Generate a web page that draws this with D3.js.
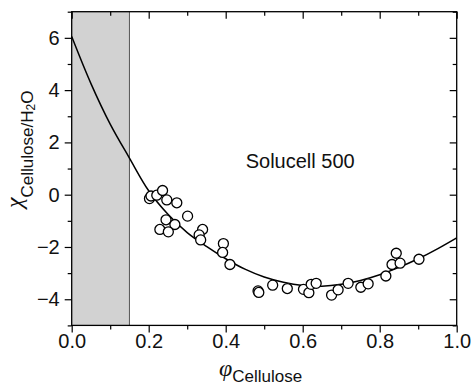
<!DOCTYPE html>
<html>
<head>
<meta charset="utf-8">
<script src="https://cdn.jsdelivr.net/npm/d3@7"></script>
<style>
  body { margin: 0; background: #fff; }
  text { font-family: "Liberation Sans", Arial, sans-serif; }
</style>
</head>
<body>
<script>
const W = 473, H = 387;
const margin = { top: 11.7, right: 16.3, bottom: 61.6, left: 71.7 };
const width = W - margin.left - margin.right;
const height = H - margin.top - margin.bottom;

// measured points (phi, chi)
const phiData = [0.202, 0.206, 0.221, 0.236, 0.247, 0.273, 0.301, 0.245, 0.268, 0.229, 0.251,
  0.340, 0.331, 0.335, 0.394, 0.392, 0.411, 0.484, 0.486, 0.522, 0.560,
  0.602, 0.616, 0.622, 0.635, 0.675, 0.692, 0.718, 0.751, 0.770, 0.816, 0.832, 0.843, 0.853, 0.902];
const chiData = [-0.15, -0.05, -0.02, 0.16, -0.20, -0.31, -0.82, -0.96, -1.14, -1.33, -1.42,
  -1.33, -1.54, -1.73, -1.87, -2.21, -2.67, -3.68, -3.74, -3.46, -3.59,
  -3.62, -3.75, -3.43, -3.39, -3.84, -3.64, -3.39, -3.54, -3.41, -3.11, -2.67, -2.24, -2.62, -2.47];

// fitted curve
const phiFit = [0, 0.05, 0.1, 0.15, 0.2, 0.25, 0.3, 0.35, 0.4, 0.45, 0.5, 0.55, 0.6, 0.65, 0.7, 0.75, 0.8, 0.85, 0.9, 0.95, 1.0];
const chiFit = [6.05, 4.25, 2.7, 1.4, 0.15, -0.75, -1.45, -1.98, -2.45, -2.85, -3.15, -3.35, -3.47, -3.5, -3.43, -3.28, -3.06, -2.78, -2.45, -2.07, -1.65];

const shadeRange = [0, 0.15];
const xTicks = [0, 0.2, 0.4, 0.6, 0.8, 1.0];
const xMinor = [0.1, 0.3, 0.5, 0.7, 0.9];
const yTicks = [-4, -2, 0, 2, 4, 6];
const yMinor = [-5, -3, -1, 1, 3, 5, 7];
const label = "Solucell 500";

const svg = d3.select("body").append("svg")
    .attr("width", W)
    .attr("height", H);

const g = svg.append("g")
    .attr("transform", `translate(${margin.left},${margin.top})`);

const x = d3.scaleLinear().domain([0, 1]).range([0, width]);
const y = d3.scaleLinear().domain([-5, 7]).range([height, 0]);

// shaded region
g.append("rect")
    .attr("x", x(shadeRange[0]))
    .attr("y", 0)
    .attr("width", x(shadeRange[1]) - x(shadeRange[0]))
    .attr("height", height)
    .attr("fill", "#d2d2d2");
g.append("line")
    .attr("x1", x(shadeRange[1])).attr("x2", x(shadeRange[1]))
    .attr("y1", 0).attr("y2", height)
    .attr("stroke", "#555").attr("stroke-width", 1);

// axes
const fontSize = 20;
g.append("g")
    .attr("transform", `translate(0,${height})`)
    .call(d3.axisBottom(x).tickValues(xTicks).tickFormat(d3.format(".1f")).tickSize(7).tickPadding(1));
g.append("g")
    .attr("transform", `translate(0,${height})`)
    .call(d3.axisBottom(x).tickValues(xMinor).tickFormat("").tickSize(4));
g.append("g")
    .call(d3.axisLeft(y).tickValues(yTicks).tickSize(7).tickPadding(5));
g.append("g")
    .call(d3.axisLeft(y).tickValues(yMinor).tickFormat("").tickSize(4));
// inward mirror ticks
g.append("g")
    .call(d3.axisTop(x).tickValues(xTicks).tickFormat("").tickSize(-7));
g.append("g")
    .call(d3.axisTop(x).tickValues(xMinor).tickFormat("").tickSize(-4));
g.append("g")
    .attr("transform", `translate(${width},0)`)
    .call(d3.axisRight(y).tickValues(yTicks).tickFormat("").tickSize(-7));
g.append("g")
    .attr("transform", `translate(${width},0)`)
    .call(d3.axisRight(y).tickValues(yMinor).tickFormat("").tickSize(-4));

g.selectAll(".domain").remove();
g.selectAll(".tick line").attr("stroke", "#000").attr("stroke-width", 1.2);
g.selectAll(".tick text")
    .attr("font-size", fontSize)
    .attr("font-family", "Liberation Sans, Arial, sans-serif")
    .attr("fill", "#111");

// frame
g.append("rect")
    .attr("width", width)
    .attr("height", height)
    .attr("fill", "none")
    .attr("stroke", "#000")
    .attr("stroke-width", 1.3);

// fitted curve
const fit = phiFit.map((p, i) => ({ p, c: chiFit[i] }));
g.append("path")
    .datum(fit)
    .attr("fill", "none")
    .attr("stroke", "#000")
    .attr("stroke-width", 1.5)
    .attr("d", d3.line().x(d => x(d.p)).y(d => y(d.c)).curve(d3.curveCatmullRom));

// data points
const pts = phiData.map((p, i) => ({ p, c: chiData[i] }));
g.selectAll("circle.pt")
    .data(pts)
    .join("circle")
    .attr("class", "pt")
    .attr("cx", d => x(d.p))
    .attr("cy", d => y(d.c))
    .attr("r", 5)
    .attr("fill", "#fff")
    .attr("stroke", "#000")
    .attr("stroke-width", 1.3);

// annotation
svg.append("text")
    .attr("x", 245.7)
    .attr("y", 168)
    .attr("font-size", fontSize)
    .attr("fill", "#111")
    .text(label);

// x title
const xt = svg.append("text")
    .attr("x", 219)
    .attr("y", 376)
    .attr("fill", "#111");
xt.append("tspan")
    .attr("font-family", "Liberation Serif, serif")
    .attr("font-style", "italic")
    .attr("font-size", 24)
    .text("φ");
xt.append("tspan")
    .attr("font-size", 17)
    .attr("dy", 6)
    .text("Cellulose");

// y title
const yt = svg.append("text")
    .attr("transform", "translate(22,208) rotate(-90)")
    .attr("fill", "#111");
yt.append("tspan")
    .attr("font-family", "Liberation Serif, serif")
    .attr("font-style", "italic")
    .attr("font-size", 24)
    .text("χ");
yt.append("tspan")
    .attr("font-size", 17)
    .attr("dy", 11)
    .text("Cellulose/H");
yt.append("tspan")
    .attr("font-size", 12)
    .attr("dy", 2)
    .text("2");
yt.append("tspan")
    .attr("font-size", 17)
    .attr("dy", -2)
    .text("O");
</script>
</body>
</html>
